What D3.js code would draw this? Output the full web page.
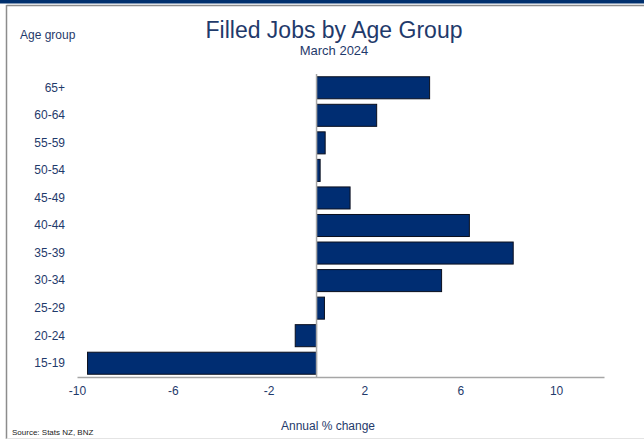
<!DOCTYPE html>
<html>
<head>
<meta charset="utf-8">
<script src="https://cdn.jsdelivr.net/npm/d3@7"></script>
<style>
  body { margin: 0; background: #fff; }
  text { font-family: "Liberation Sans", Arial, sans-serif; }
</style>
</head>
<body>
<div id="chart"></div>
<script>
// Set up SVG
var svgWidth = 644;
var svgHeight = 439;

// Data
var ageGroups = ["65+", "60-64", "55-59", "50-54", "45-49", "40-44", "35-39", "30-34", "25-29", "20-24", "15-19"];
var annualChange = [4.72, 2.51, 0.36, 0.15, 1.40, 6.38, 8.21, 5.22, 0.33, -0.89, -9.56];
var xTicks = [-10, -6, -2, 2, 6, 10];

var textColor = "#1f3a6b";
var barColor = "#002d72";

var margin = { top: 74, right: 40, bottom: 62, left: 77 };
var width = 604 - margin.left;
var height = 377 - margin.top;

var svg = d3.select("#chart")
    .append("svg")
    .attr("width", svgWidth)
    .attr("height", svgHeight);

// frame
svg.append("rect").attr("x", 0).attr("y", 0).attr("width", svgWidth).attr("height", 3.5).attr("fill", "#00306e");
svg.append("line").attr("x1", 6.5).attr("x2", svgWidth).attr("y1", 5.5).attr("y2", 5.5)
    .attr("stroke", "#8c8c8c").attr("stroke-width", 1.5);
svg.append("line").attr("x1", 6.5).attr("x2", 6.5).attr("y1", 5).attr("y2", svgHeight)
    .attr("stroke", "#8c8c8c").attr("stroke-width", 1.5);
svg.append("line").attr("x1", 6.5).attr("x2", svgWidth).attr("y1", 438.5).attr("y2", 438.5)
    .attr("stroke", "#e4e4e4").attr("stroke-width", 1);

// titles
svg.append("text").attr("x", 334).attr("y", 38).attr("text-anchor", "middle")
    .attr("font-size", 23).attr("fill", textColor).text("Filled Jobs by Age Group");
svg.append("text").attr("x", 334).attr("y", 55).attr("text-anchor", "middle")
    .attr("font-size", 13).attr("fill", textColor).text("March 2024");
svg.append("text").attr("x", 20).attr("y", 39)
    .attr("font-size", 12).attr("fill", textColor).text("Age group");
svg.append("text").attr("x", 328).attr("y", 430).attr("text-anchor", "middle")
    .attr("font-size", 12).attr("fill", textColor).text("Annual % change");
svg.append("text").attr("x", 12).attr("y", 435)
    .attr("font-size", 8).attr("fill", "#222").text("Source: Stats NZ, BNZ");

var chartGroup = svg.append("g")
    .attr("transform", `translate(${margin.left}, ${margin.top})`);

var xLinearScale = d3.scaleLinear().domain([-10, 12]).range([0, width]);
var yBand = d3.scaleBand().domain(ageGroups).range([0, height]).paddingInner(0.2).paddingOuter(0.1);

// bars
chartGroup.selectAll("rect.bar")
    .data(ageGroups)
    .enter()
    .append("rect")
    .attr("class", "bar")
    .attr("x", (d, i) => xLinearScale(Math.min(0, annualChange[i])))
    .attr("y", d => yBand(d))
    .attr("width", (d, i) => Math.abs(xLinearScale(annualChange[i]) - xLinearScale(0)))
    .attr("height", yBand.bandwidth())
    .attr("fill", barColor)
    .attr("stroke", "#0a0f1e")
    .attr("stroke-width", 1);

// zero line
chartGroup.append("line")
    .attr("x1", xLinearScale(0)).attr("x2", xLinearScale(0))
    .attr("y1", 0).attr("y2", height)
    .attr("stroke", "#a6a6a6").attr("stroke-width", 1.5);

// x axis (plain hyphen for negatives, like the original)
var bottomAxis = d3.axisBottom(xLinearScale).tickValues(xTicks)
    .tickFormat(d => String(d)).tickSize(0).tickPadding(9);
var xAxis = chartGroup.append("g")
    .attr("transform", `translate(0, ${height})`)
    .call(bottomAxis);
xAxis.select(".domain").attr("stroke", "#a6a6a6").attr("stroke-width", 1.5);
xAxis.selectAll("text").attr("font-size", 12).attr("fill", textColor)
    .attr("font-family", "Liberation Sans, Arial, sans-serif");

// y axis labels
var leftAxis = d3.axisLeft(yBand).tickSize(0).tickPadding(12);
var yAxis = chartGroup.append("g").call(leftAxis);
yAxis.select(".domain").remove();
yAxis.selectAll("text").attr("font-size", 12).attr("fill", textColor)
    .attr("font-family", "Liberation Sans, Arial, sans-serif");
</script>
</body>
</html>
